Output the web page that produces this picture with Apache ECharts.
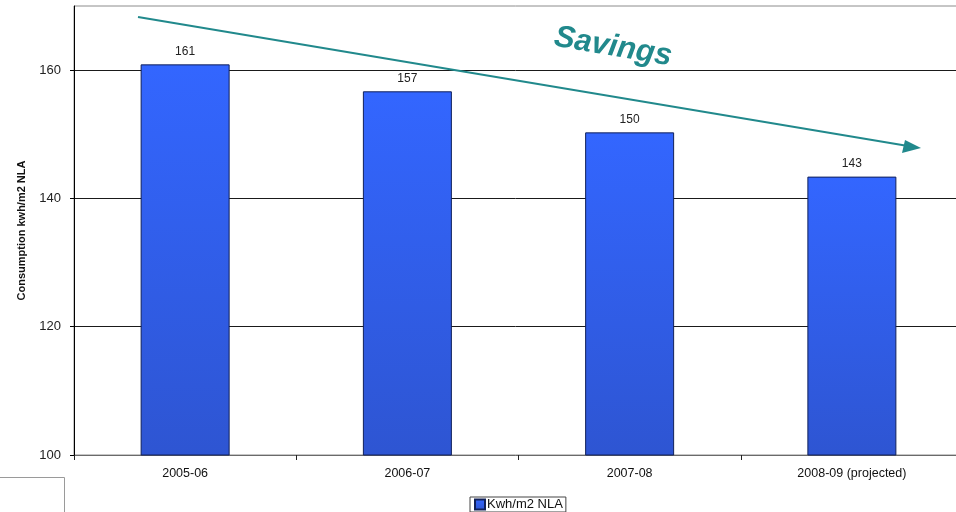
<!DOCTYPE html>
<html>
<head>
<meta charset="utf-8">
<script src="https://cdn.jsdelivr.net/npm/echarts@6/dist/echarts.min.js"></script>
<style>
  html, body { margin: 0; padding: 0; background: #fff; }
  #chart { width: 956px; height: 512px; }
</style>
</head>
<body>
<div id="chart"></div>
<script>
// Annual energy consumption per m2 of net lettable area
const years = ['2005-06', '2006-07', '2007-08', '2008-09 (projected)'];
const consumption = [160.9, 156.7, 150.3, 143.4];
const yTicks = [100, 120, 140, 160];
const seriesName = 'Kwh/m2 NLA';

const FONT = '"Liberation Sans", Arial, sans-serif';
const TEAL = '#21898c';

const chart = echarts.init(document.getElementById('chart'), null, { renderer: 'canvas' });

chart.setOption({
  animation: false,
  backgroundColor: '#ffffff',
  textStyle: { fontFamily: FONT },
  grid: {
    left: 74, top: 6, bottom: 57, width: 889,
    outerBoundsMode: 'none',
    show: true, borderColor: '#8c8c8c', borderWidth: 1
  },
  legend: {
    left: 470, top: 497,
    padding: [1, 3, 1, 4],
    borderColor: '#444', borderWidth: 1,
    itemWidth: 10, itemHeight: 10, itemGap: 4,
    icon: 'rect',
    textStyle: { fontFamily: FONT, fontSize: 13, color: '#111', padding: [0, 0, 0, -3] },
    data: [seriesName]
  },
  xAxis: {
    type: 'category',
    data: years,
    axisLine: { lineStyle: { color: '#6a6a6a', width: 1 } },
    axisTick: { show: true, length: 5, lineStyle: { color: '#222' } },
    axisLabel: { fontFamily: FONT, fontSize: 12.5, color: '#111', margin: 12 },
    splitLine: { show: false }
  },
  yAxis: {
    type: 'value',
    min: 100, max: 170, interval: 20,
    name: 'Consumption kwh/m2 NLA',
    nameLocation: 'middle',
    nameGap: 47,
    nameTextStyle: { fontFamily: FONT, fontSize: 11, fontWeight: 'bold', color: '#111' },
    axisLine: { show: true, lineStyle: { color: '#000', width: 1 } },
    axisTick: { show: true, length: 4, inside: false, customValues: yTicks, lineStyle: { color: '#000' } },
    axisLabel: { fontFamily: FONT, fontSize: 13, color: '#222', margin: 13, customValues: yTicks },
    splitLine: { show: true, showMinLine: false, lineStyle: { color: '#1a1a1a', width: 1 } }
  },
  series: [{
    name: seriesName,
    type: 'bar',
    data: consumption,
    barWidth: 89,
    itemStyle: {
      color: new echarts.graphic.LinearGradient(0, 0, 0, 1, [
        { offset: 0, color: '#3366ff' },
        { offset: 1, color: '#2e55d2' }
      ]),
      borderColor: '#10205a',
      borderWidth: 1
    },
    label: {
      show: true,
      position: 'top',
      distance: 7,
      fontFamily: FONT,
      fontSize: 12,
      color: '#222',
      formatter: p => Math.round(p.value)
    }
  }],
  graphic: [
    // downward trend arrow
    {
      type: 'line',
      shape: { x1: 138, y1: 17, x2: 908, y2: 146 },
      style: { stroke: TEAL, lineWidth: 2 },
      z: 10
    },
    {
      type: 'polygon',
      shape: { points: [[921, 148], [905, 140], [902, 153]] },
      style: { fill: TEAL },
      z: 10
    },
    {
      type: 'text',
      x: 613, y: 47,
      rotation: -9.5 * Math.PI / 180,
      style: {
        text: 'Savings',
        fontFamily: FONT,
        fontSize: 31,
        fontWeight: 'bold',
        fontStyle: 'italic',
        fill: TEAL,
        align: 'center',
        verticalAlign: 'middle'
      },
      z: 10
    },
    // partial frame in the lower-left corner
    {
      type: 'polyline',
      shape: { points: [[0, 477.5], [64.5, 477.5], [64.5, 512]] },
      style: { stroke: '#9a9a9a', lineWidth: 1, fill: null },
      z: 10
    }
  ]
});
</script>
</body>
</html>
